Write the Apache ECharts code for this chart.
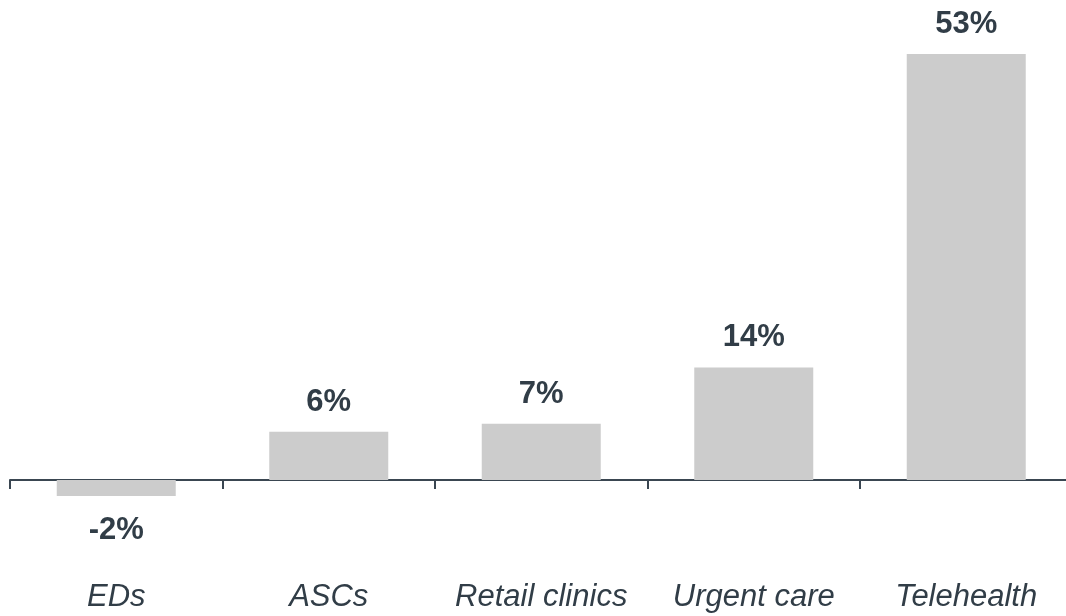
<!DOCTYPE html>
<html>
<head>
<meta charset="utf-8">
<script src="https://cdn.jsdelivr.net/npm/echarts@6/dist/echarts.min.js"></script>
<style>
  html, body { margin: 0; padding: 0; background: #ffffff; }
  #chart { width: 1066px; height: 616px; }
</style>
</head>
<body>
<div id="chart"></div>
<script>
// Growth by care setting (%)
const categories = ['EDs', 'ASCs', 'Retail clinics', 'Urgent care', 'Telehealth'];
const growthValues = [-2, 6, 7, 14, 53];

const textColor = '#313d47';
const axisColor = '#3a4651';
const barColor = '#cccccc';

const chart = echarts.init(document.getElementById('chart'), null, { renderer: 'canvas' });

chart.setOption({
  animation: false,
  backgroundColor: '#ffffff',
  grid: {
    left: 10, width: 1062.5, top: 54, bottom: 120,
    containLabel: false,
    outerBoundsMode: 'none'
  },
  xAxis: {
    type: 'category',
    data: categories,
    axisLine: { onZero: true, lineStyle: { color: axisColor, width: 2 } },
    axisTick: { show: true, length: 9, lineStyle: { color: axisColor, width: 2 } },
    axisLabel: {
      interval: 0,
      margin: 86,
      color: textColor,
      fontFamily: 'Liberation Sans, Arial, sans-serif',
      fontStyle: 'italic',
      fontSize: 31
    }
  },
  yAxis: {
    type: 'value',
    min: -2,
    max: 53,
    show: false,
    splitLine: { show: false }
  },
  series: [{
    type: 'bar',
    barWidth: '56%',
    itemStyle: { color: barColor },
    label: {
      show: true,
      position: 'top',
      distance: 14,
      color: textColor,
      fontFamily: 'Liberation Sans, Arial, sans-serif',
      fontWeight: 'bold',
      fontSize: 31,
      formatter: p => p.value + '%'
    },
    data: growthValues.map(v => v < 0
      ? { value: v, label: { position: 'bottom', distance: 19 } }
      : v)
  }]
});
</script>
</body>
</html>
